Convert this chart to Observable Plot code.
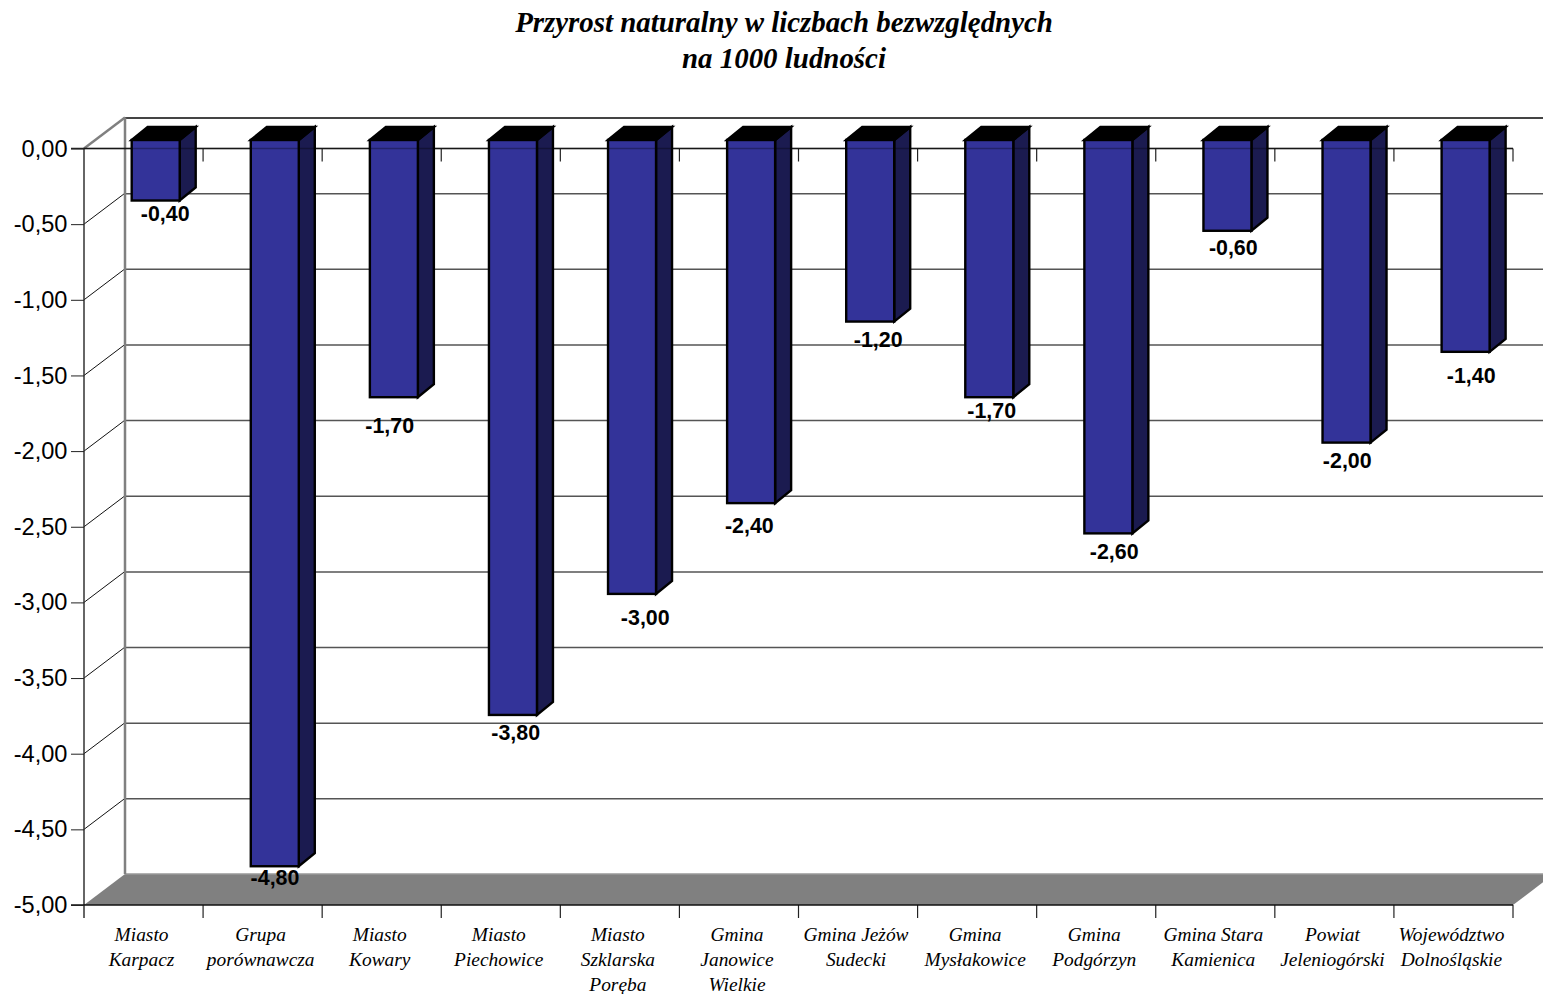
<!DOCTYPE html>
<html>
<head>
<meta charset="utf-8">
<script src="https://cdn.jsdelivr.net/npm/d3@7"></script>
<script src="https://cdn.jsdelivr.net/npm/@observablehq/plot@0.6"></script>
<style>
html,body{margin:0;padding:0;background:#fff;overflow:hidden;width:1543px;height:994px}
#title{height:90px;box-sizing:border-box;padding-top:4px;text-align:center;font:italic bold 28.9px/36px "Liberation Serif",serif;color:#000;width:1568px}
</style>
</head>
<body>
<div id="title">Przyrost naturalny w liczbach bezwzględnych<br>na 1000 ludności</div>
<div id="chart"></div>
<script>
const categories = ["Miasto\nKarpacz","Grupa\nporównawcza","Miasto\nKowary","Miasto\nPiechowice","Miasto\nSzklarska\nPoręba","Gmina\nJanowice\nWielkie","Gmina Jeżów\nSudecki","Gmina\nMysłakowice","Gmina\nPodgórzyn","Gmina Stara\nKamienica","Powiat\nJeleniogórski","Województwo\nDolnośląskie"];
const values = [-0.4,-4.8,-1.7,-3.8,-3.0,-2.4,-1.2,-1.7,-2.6,-0.6,-2.0,-1.4];
const yTicks = [0,-0.5,-1,-1.5,-2,-2.5,-3,-3.5,-4,-4.5,-5];
// hand placement of the value labels, in pixels, relative to the foot of each bar
const labelDx = [9,-0.3,-4.7,2.2,12.7,-2.3,7.5,1.9,5.3,5.3,0.2,5.1];
const labelDy = [13,11.5,28.5,17.5,23.5,22.5,18.5,13.5,18.5,16.5,18.5,23.5];

const rows = categories.map((category,i)=>({category,value:values[i],i}));
const fmt = d => d3.format(".2f")(d).replace(".",",").replace("−","-");

const wallDx = 41, wallDy = -31;
const barInset = 47.7, barW = 48, barShiftY = -8.5, barDx = 16, barDy = -13;

function shapes(build){
  return (index, scales, values, dims) => {
    const g = d3.create("svg:g");
    const add = (pts, style={}) => {
      const p = g.append("path").attr("d","M"+pts.map(p=>p.join(",")).join("L")+(style.open?"":"Z"));
      p.attr("fill",style.fill||"none").attr("stroke",style.stroke||"none").attr("stroke-width",style.sw||1).attr("stroke-linejoin","miter");
      if(style.opacity!=null) p.attr("opacity",style.opacity);
    };
    build(add, scales);
    return g.node();
  };
}
const floor = shapes((add,{x,y})=>{
  const l=x(categories[0]), r=x(categories[11])+x.bandwidth(), b=y(-5);
  add([[l,b],[l+wallDx,b+wallDy],[r+wallDx,b+wallDy],[r,b]],{fill:"#808080"});
  add([[l+wallDx,b+wallDy],[r+wallDx,b+wallDy]],{stroke:"#999",sw:1.5,open:true});
});
const walls = shapes((add,{x,y})=>{
  const l=x(categories[0]);
  yTicks.slice(1,-1).forEach(t=>add([[l,y(t)],[l+wallDx,y(t)+wallDy]],{stroke:"#111",sw:1,open:true}));
  add([[l,y(0)],[l+wallDx,y(0)+wallDy]],{stroke:"#808080",sw:2.5,open:true});
  add([[l+wallDx,y(0)+wallDy],[l+wallDx,y(-5)+wallDy]],{stroke:"#808080",sw:2.5,open:true});
});
const axes = shapes((add,{x,y})=>{
  const l=x(categories[0]), s=x.bandwidth();
  add([[l,y(0)],[l,y(-5)+13]],{stroke:"#333",sw:1.5,open:true});
  categories.forEach(c=>{
    const e=x(c)+s;
    add([[e,y(0)],[e,y(0)+13]],{stroke:"#222",sw:1.2,open:true});
    add([[e,y(-5)],[e,y(-5)+13]],{stroke:"#222",sw:1.2,open:true});
  });
  add([[l-13,y(-5)],[l+s*12,y(-5)]],{stroke:"#111",sw:1.5,open:true});
  add([[l-13,y(0)],[l+s*12,y(0)]],{stroke:"#222",sw:1.5,open:true});
});
const sides = shapes((add,{x,y})=>{
  rows.forEach(d=>{
    const xl=x(d.category)+barInset, xr=xl+barW, yt=y(0)+barShiftY, yb=y(d.value)+barShiftY;
    add([[xr,yt],[xr+barDx,yt+barDy],[xr+barDx,yb+barDy],[xr,yb]],{fill:"#1b1b50",stroke:"#000",sw:2.4});
    add([[xl,yt],[xl+barDx,yt+barDy],[xr+barDx,yt+barDy],[xr,yt]],{fill:"#000",stroke:"#000",sw:2.4});
  });
});
const zeroOver = shapes((add,{x,y})=>{
  add([[x(categories[0]),y(0)],[x(categories[11])+x.bandwidth(),y(0)]],{stroke:"#000",sw:1.5,opacity:0.3,open:true});
});

const T = 90;
const plot = Plot.plot({
  width:1543, height:904,
  marginLeft:84, marginRight:30, marginTop:148.5-T, marginBottom:904-(905-T),
  x:{type:"band",domain:categories,padding:0,round:false,axis:null},
  y:{domain:[-5,0],label:null},
  style:{background:"#fff",overflow:"visible"},
  marks:[
    floor,
    Plot.ruleY(yTicks.slice(1,-1),{stroke:"#555",strokeWidth:1.5,dx:wallDx,dy:wallDy}),
    Plot.ruleY([0],{stroke:"#444",strokeWidth:2,dx:wallDx,dy:wallDy}),
    walls,
    axes,
    Plot.axisY({ticks:yTicks,tickFormat:fmt,tickSize:13,tickPadding:4,label:null,anchor:"left",stroke:"#222",
      fontSize:23.6,fontFamily:"Liberation Sans, Arial, sans-serif",fill:"#000"}),
    sides,
    Plot.barY(rows,{x:"category",y1:()=>0,y2:"value",fill:"#333399",stroke:"#000",strokeWidth:2.4,
      insetLeft:barInset,insetRight:119.083-barInset-barW,dy:barShiftY}),
    zeroOver,
    Plot.text(rows,{x:"category",y:"value",text:d=>fmt(d.value),
      fontSize:21.4,fontWeight:"bold",fontFamily:"Liberation Sans, Arial, sans-serif",fill:"#000",
      render(index,scales,vals,dims,ctx,next){
        const g=next(index,scales,vals,dims,ctx);
        d3.select(g).selectAll("text").each(function(_,k){
          const i=index[k];
          const cx=scales.x(rows[i].category)-scales.x.bandwidth()/2+barInset+barW/2+labelDx[i];
          const cy=scales.y(rows[i].value)+barShiftY+labelDy[i];
          d3.select(this).attr("x",null).attr("y",null).attr("dy","0.32em").attr("transform",`translate(${cx},${cy})`);
        });
        return g;
      }}),
    Plot.text(rows,{x:"category",y:()=>-5,text:"category",dx:-2.5,dy:18,lineAnchor:"top",lineHeight:1.29,
      fontSize:19.4,fontStyle:"italic",fontFamily:"Liberation Serif, serif",fill:"#000"})
  ]
});
document.getElementById("chart").appendChild(plot);
</script>
</body>
</html>
